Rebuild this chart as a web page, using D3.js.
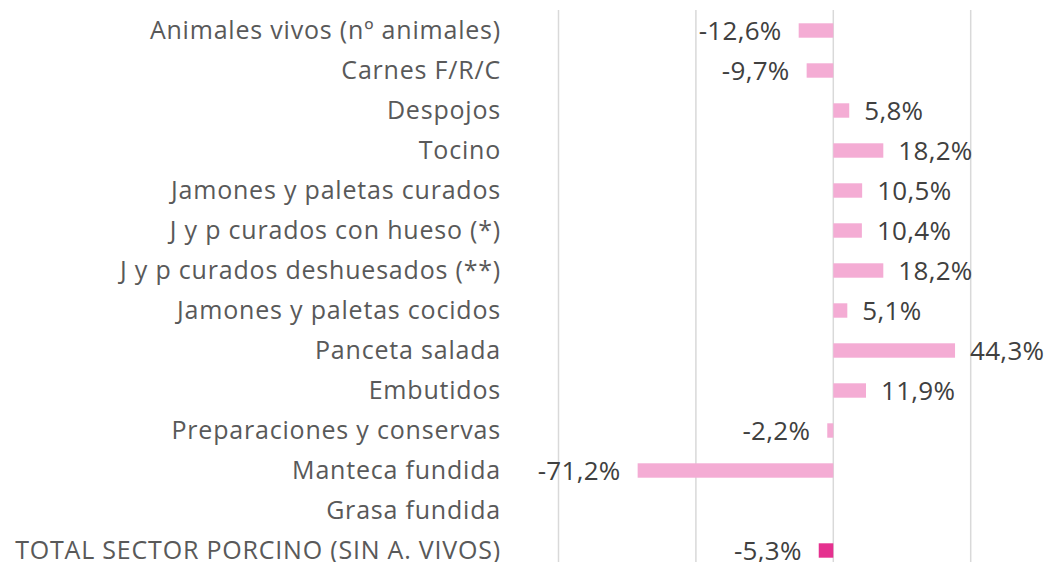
<!DOCTYPE html>
<html>
<head>
<meta charset="utf-8">
<script src="https://cdn.jsdelivr.net/npm/d3@7"></script>
<style>
  html, body { margin: 0; padding: 0; background: #fff; }
  svg { display: block; }
  text { font-family: "Open Sans", "Noto Sans", sans-serif; }
</style>
</head>
<body>
<svg id="chart" width="1052" height="562"></svg>
<script>
const categories = [
  "Animales vivos (nº animales)",
  "Carnes F/R/C",
  "Despojos",
  "Tocino",
  "Jamones y paletas curados",
  "J y p curados con hueso (*)",
  "J y p curados deshuesados (**)",
  "Jamones y paletas cocidos",
  "Panceta salada",
  "Embutidos",
  "Preparaciones y conservas",
  "Manteca fundida",
  "Grasa fundida",
  "TOTAL SECTOR PORCINO (SIN A. VIVOS)"
];
const values = [-12.6, -9.7, 5.8, 18.2, 10.5, 10.4, 18.2, 5.1, 44.3, 11.9, -2.2, -71.2, null, -5.3];
const gridTicks = [-100, -50, 0, 50];

const svg = d3.select("#chart");
const x = d3.scaleLinear().domain([-100, 50]).range([558.5, 970.7]);
const y = d3.scaleBand().domain(categories).range([10.5, 570.5]).paddingInner(0.64).paddingOuter(0.32);

const fmt = v => (v < 0 ? "-" : "") + d3.format(".1f")(Math.abs(v)).replace(".", ",") + "%";

// gridlines
svg.append("g").selectAll("line").data(gridTicks).join("line")
  .attr("x1", d => x(d)).attr("x2", d => x(d))
  .attr("y1", 10).attr("y2", 572)
  .attr("stroke", "#d9d9d9").attr("stroke-width", 1.5);

const data = categories.map((c, i) => ({ c, v: values[i], total: i === categories.length - 1 }));

// bars
svg.append("g").selectAll("rect").data(data.filter(d => d.v !== null)).join("rect")
  .attr("x", d => x(Math.min(0, d.v)))
  .attr("width", d => Math.abs(x(d.v) - x(0)))
  .attr("y", d => y(d.c))
  .attr("height", y.bandwidth())
  .attr("fill", d => d.total ? "#e5318f" : "#f4acd4");

// category labels
const yAxis = d3.axisLeft(y).tickSize(0).tickPadding(0);
const ax = svg.append("g").attr("transform", "translate(501,0)").call(yAxis);
ax.select(".domain").remove();
ax.selectAll("text")
  .attr("font-size", 25)
  .attr("letter-spacing", 0.8)
  .attr("fill", "#595959")
  .attr("font-family", "'Open Sans', 'Noto Sans', sans-serif");

// value labels
svg.append("g").selectAll("text").data(data.filter(d => d.v !== null)).join("text")
  .attr("x", d => d.v < 0 ? x(d.v) - 17 : x(d.v) + 15)
  .attr("y", d => y(d.c) + y.bandwidth() / 2)
  .attr("dy", "0.36em")
  .attr("text-anchor", d => d.v < 0 ? "end" : "start")
  .attr("font-size", 26)
  .attr("letter-spacing", 0.3)
  .attr("fill", "#404040")
  .text(d => fmt(d.v));
</script>
</body>
</html>
